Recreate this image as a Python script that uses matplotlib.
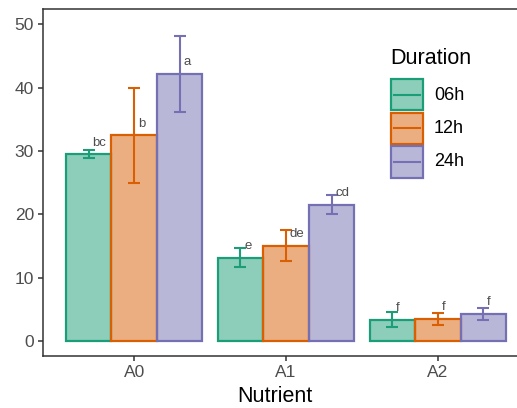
import numpy as np
import matplotlib
matplotlib.use("Agg")
import matplotlib.pyplot as plt
from matplotlib.patches import Rectangle
from matplotlib.lines import Line2D

plt.rcParams['font.family'] = ['Liberation Sans', 'DejaVu Sans']

# Dados
nutrientes = ['A0', 'A1', 'A2']
duracoes = ['06h', '12h', '24h']
media = {
    '06h': [29.5, 13.2, 3.4],
    '12h': [32.5, 15.1, 3.5],
    '24h': [42.2, 21.5, 4.3],
}
erro = {
    '06h': [0.6, 1.45, 1.15],
    '12h': [7.5, 2.5, 0.9],
    '24h': [6.0, 1.5, 0.9],
}
letras = {
    '06h': ['bc', 'e', 'f'],
    '12h': ['b', 'de', 'f'],
    '24h': ['a', 'cd', 'f'],
}
cores = {'06h': '#1B9E77', '12h': '#D95F02', '24h': '#7570B3'}

W, H = 517, 408
fig = plt.figure(figsize=(W / 100, H / 100), dpi=100)
ax = fig.add_axes([43 / W, 1 - 356.3 / H, 486 / W, (356.3 - 8.7) / H])

x = np.arange(1, len(nutrientes) + 1)
largura = 0.3
for i, d in enumerate(duracoes):
    pos = x + (i - 1) * largura
    ax.bar(pos, media[d], width=largura, color=cores[d], alpha=0.5, zorder=2)
    ax.bar(pos, media[d], width=largura, facecolor='none', edgecolor=cores[d],
           linewidth=1.6, zorder=3)
    ax.errorbar(pos, media[d], yerr=erro[d], fmt='none', ecolor=cores[d],
                elinewidth=1.5, capsize=4.5, capthick=1.5, zorder=4)
    for p, m, l in zip(pos, media[d], letras[d]):
        ax.text(p + 0.025, m + 1.85, l, ha='left', va='center', fontsize=9.5,
                color='#4D4D4D', zorder=5)

ax.set_xlim(0.4, 3.6)
ax.set_ylim(-2.37, 52.46)
ax.set_xticks(x)
ax.set_xticklabels(nutrientes)
ax.set_yticks([0, 10, 20, 30, 40, 50])
ax.tick_params(axis='both', colors='#333333', labelcolor='#4D4D4D',
               labelsize=12.5, length=3.5, width=1.1, pad=3)
for s in ax.spines.values():
    s.set_color('#333333')
    s.set_linewidth(1.1)

ax.set_xlabel('Nutrient', fontsize=15.5, color='black')
ax.xaxis.set_label_coords((275 - 43) / 486, (356.3 - 396) / (356.3 - 8.7))
ax.xaxis.label.set_va('center')

# Legenda desenhada à mão (coordenadas em pixels da figura)
def fx(px):
    return px / W

def fy(py):
    return 1 - py / H

fig.text(fx(390), fy(58), 'Duration', fontsize=15.5, ha='left', va='center')
topo = [79, 112.5, 146]
for d, t in zip(duracoes, topo):
    fig.add_artist(Rectangle((fx(391), fy(t + 31.5)), 31.5 / W, 31.5 / H,
                             transform=fig.transFigure, facecolor=cores[d],
                             alpha=0.5, edgecolor='none'))
    fig.add_artist(Rectangle((fx(391), fy(t + 31.5)), 31.5 / W, 31.5 / H,
                             transform=fig.transFigure, facecolor='none',
                             edgecolor=cores[d], linewidth=1.6))
    fig.add_artist(Line2D([fx(393.5), fx(420)], [fy(t + 15.75)] * 2,
                          transform=fig.transFigure, color=cores[d],
                          linewidth=1.5))
    fig.text(fx(434), fy(t + 16), d, fontsize=13, ha='left', va='center')

fig.savefig('out.png', dpi=100)
